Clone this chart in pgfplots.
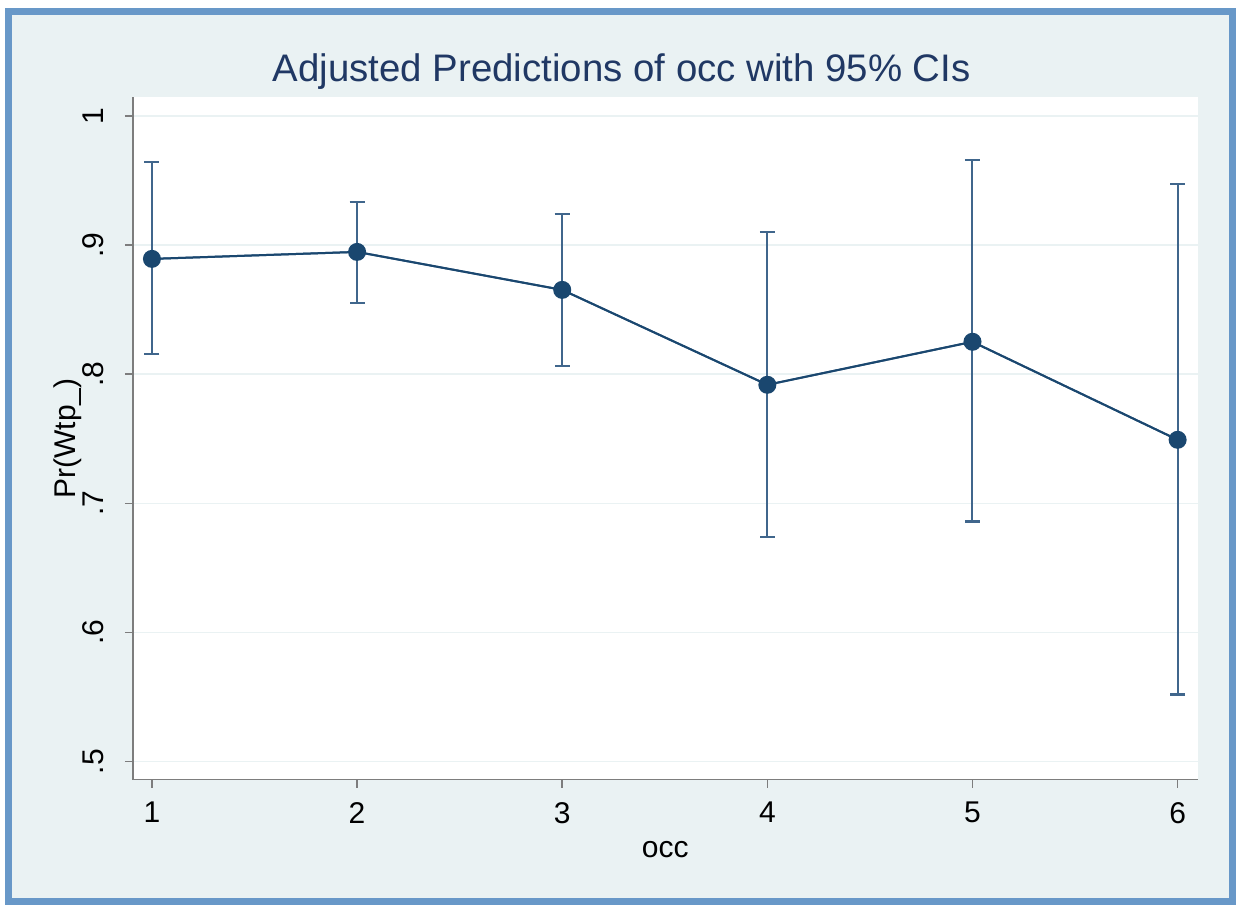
\documentclass[border=0pt]{standalone}
\usepackage{fontspec}
\setmainfont{Liberation Sans}
\usepackage{pgfplots}
\pgfplotsset{compat=1.18}
\definecolor{bgcol}{RGB}{234,242,243}
\definecolor{frameblue}{RGB}{104,152,200}
\definecolor{navy}{RGB}{26,71,111}
\definecolor{titlecol}{RGB}{32,56,100}
\definecolor{cicol}{RGB}{64,102,140}
\definecolor{axgray}{RGB}{125,125,125}
\begin{document}
\begin{tikzpicture}
\path[fill=white] (0,0) rectangle (618pt,452.5pt);
\draw[line width=3.5pt, draw=frameblue, fill=bgcol] (4.25pt,1.75pt) rectangle (616.5pt,446.75pt);
\node[anchor=base, text=titlecol, font=\fontsize{19.2}{22}\selectfont] at (311pt,411.5pt) {Adjusted Predictions of occ with 95\% CIs};
\begin{axis}[
  at={(66.5pt,62.5pt)}, anchor=south west,
  width=532.5pt, height=341.5pt, scale only axis,
  xmin=0.9074, xmax=6.097, ymin=0.486, ymax=1.0147,
  axis background/.style={fill=white},
  axis x line*=bottom, axis y line*=left,
  axis line style={draw=axgray, line width=0.8pt, -},
  tick align=outside,
  major tick length=4pt,
  tick style={draw=axgray, line width=0.8pt},
  xtick={1,2,3,4,5,6},
  ytick={0.5,0.6,0.7,0.8,0.9,1},
  yticklabels={.5,.6,.7,.8,.9,1},
  ymajorgrids=true,
  major grid style={draw=bgcol, line width=0.8pt},
  /pgf/number format/assume math mode=true,
  ticklabel style={font=\fontsize{15}{18}\selectfont, text=black},
  yticklabel style={rotate=90, anchor=base, inner sep=0pt},
  yticklabel shift=10.5pt,
  xticklabel style={anchor=north, inner sep=0pt},
  xticklabel shift=7pt,
  xlabel={occ}, ylabel={Pr(Wtp\_)},
  label style={font=\fontsize{15}{18}\selectfont, text=black},
  xlabel style={at={(axis description cs:0.5,-0.1142)}, anchor=base},
  ylabel style={at={(axis description cs:-0.0535,0.5)}, anchor=base},
  clip=false,
]
\addplot[draw=cicol, line width=1pt, mark=none,
  error bars/.cd, y dir=both, y explicit,
  error bar style={draw=cicol, line width=1pt},
  error mark options={rotate=90, mark size=3.75pt, draw=cicol, line width=1.2pt}]
  table[x=x, y=y, y error plus=ep, y error minus=em] {
x y ep em
1 0.8893 0.0751 0.0735
2 0.8947 0.0387 0.0394
3 0.8653 0.0588 0.0588
4 0.7918 0.1184 0.1177
5 0.8251 0.1408 0.1393
6 0.7492 0.1982 0.1973
};
\addplot[draw=navy, line width=1pt, mark=*, mark size=4pt,
  mark options={fill=navy, draw=navy}]
  table[x=x, y=y] {
x y
1 0.8893
2 0.8947
3 0.8653
4 0.7918
5 0.8251
6 0.7492
};
\end{axis}
\end{tikzpicture}
\end{document}
